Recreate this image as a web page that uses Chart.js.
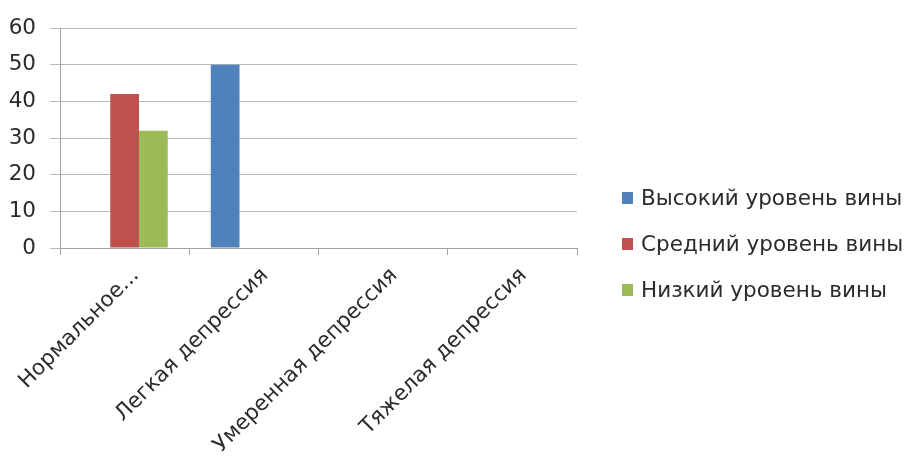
<!DOCTYPE html>
<html lang="ru">
<head>
<meta charset="utf-8">
<script src="https://cdn.jsdelivr.net/npm/chart.js@4/dist/chart.umd.min.js"></script>
<style>
  html, body { margin: 0; padding: 0; background: #fff; overflow: hidden; }
</style>
</head>
<body>
<canvas id="chart" width="909" height="460"></canvas>
<script>
// Уровень вины по степени депрессии
const categories = ['Нормальное...', 'Легкая депрессия', 'Умеренная депрессия', 'Тяжелая депрессия'];
const seriesNames = ['Высокий уровень вины', 'Средний уровень вины', 'Низкий уровень вины'];
const highGuilt = [0, 50, 0, 0];
const midGuilt = [42, 0, 0, 0];
const lowGuilt = [32, 0, 0, 0];
const yTicks = [0, 10, 20, 30, 40, 50, 60];

const colors = ['#4F81BD', '#C0504D', '#9BBB59'];
const FONT = 'DejaVu Sans';
const axisGray = '#a3a3a3';
const textColor = '#2b2b2b';

// легенда справа, как в Excel
const sideLegend = {
    id: 'sideLegend',
    afterDraw(chart){
        const ctx = chart.ctx;
        const rows = [198, 244, 290];
        ctx.save();
        ctx.font = '21.5px "' + FONT + '"';
        ctx.textBaseline = 'middle';
        ctx.textAlign = 'left';
        chart.data.datasets.forEach((ds, i) => {
            ctx.fillStyle = ds.backgroundColor;
            ctx.fillRect(622, rows[i] - 6, 11, 12);
            ctx.fillStyle = textColor;
            ctx.fillText(ds.label, 641, rows[i] + 1);
        });
        ctx.restore();
    }
};

const ctx = document.getElementById('chart').getContext('2d');
new Chart(ctx, {
    type: 'bar',
    data: {
        labels: categories,
        datasets: [
            {label: seriesNames[0], data: highGuilt, backgroundColor: colors[0]},
            {label: seriesNames[1], data: midGuilt, backgroundColor: colors[1]},
            {label: seriesNames[2], data: lowGuilt, backgroundColor: colors[2]}
        ]
    },
    options: {
        responsive: false,
        animation: false,
        layout: {padding: {top: 28, left: 0, right: 332, bottom: 0}},
        datasets: {bar: {categoryPercentage: 0.667, barPercentage: 1, borderWidth: 0}},
        plugins: {legend: {display: false}, tooltip: {enabled: false}},
        scales: {
            x: {
                offset: true,
                grid: {offset: true, drawOnChartArea: false, drawTicks: true, tickLength: 7, color: axisGray},
                border: {display: true, color: axisGray},
                ticks: {
                    autoSkip: false, minRotation: 45, maxRotation: 45, padding: 8, labelOffset: 11,
                    color: textColor, font: {family: FONT, size: 21.5}
                },
                afterFit(scale){
                    scale.height = 212;
                    // подписи могут выходить за край, отступы не нужны
                    scale.paddingLeft = 0;
                    scale.paddingRight = 0;
                }
            },
            y: {
                min: 0, max: 60,
                afterBuildTicks(scale){ scale.ticks = yTicks.map(v => ({value: v})); },
                grid: {color: '#b9b9b9', tickColor: '#b9b9b9', tickLength: 10},
                border: {display: true, color: axisGray},
                ticks: {padding: 14, color: textColor, font: {family: FONT, size: 21.5}},
                afterFit(scale){ scale.width = 60; }
            }
        }
    },
    plugins: [sideLegend]
});
</script>
</body>
</html>
